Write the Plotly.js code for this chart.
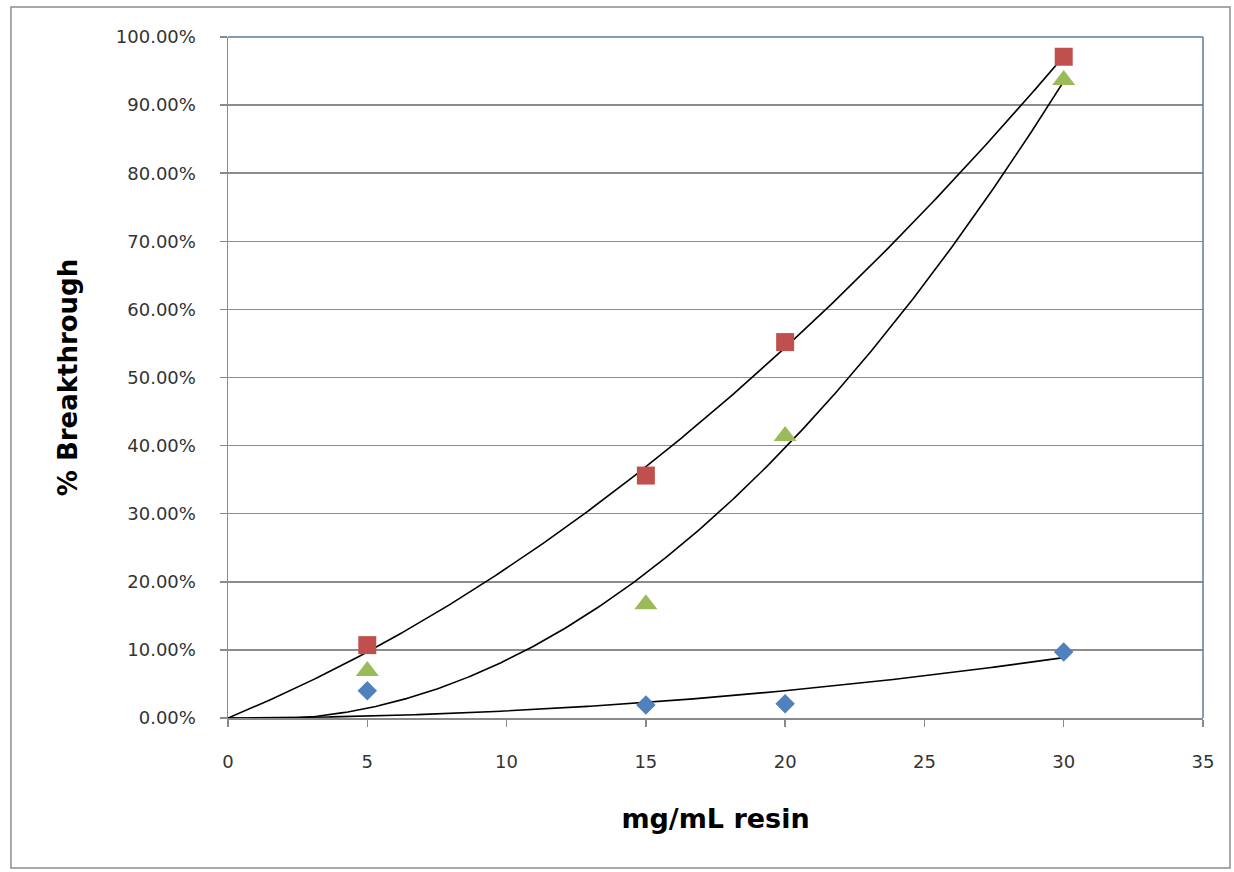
<!DOCTYPE html>
<html>
<head>
<meta charset="utf-8">
<script src="https://cdn.plot.ly/plotly-3.0.1.min.js"></script>
<style>
  html, body { margin: 0; padding: 0; background: #ffffff; }
  #chart { width: 1234px; height: 872px; }
</style>
</head>
<body>
<div id="chart"></div>
<script>
// ---- data ----
var loadings = [5, 15, 20, 30];                       // mg/mL resin
var seriesRed = [0.107, 0.356, 0.552, 0.971];         // squares
var seriesGreen = [0.069, 0.167, 0.414, 0.937];       // triangles
var seriesBlue = [0.040, 0.019, 0.021, 0.097];        // diamonds
var xTickVals = [0, 5, 10, 15, 20, 25, 30, 35];
var yTickVals = [0, 0.1, 0.2, 0.3, 0.4, 0.5, 0.6, 0.7, 0.8, 0.9, 1.0];

// 2nd-order polynomial trendline with intercept fixed at 0 (least squares),
// like a spreadsheet trendline, computed from the data arrays.
function polyFit0(xs, ys) {
  var s2 = 0, s3 = 0, s4 = 0, sxy = 0, sx2y = 0;
  for (var i = 0; i < xs.length; i++) {
    var x = xs[i], y = ys[i];
    s2 += x * x; s3 += x * x * x; s4 += x * x * x * x;
    sxy += x * y; sx2y += x * x * y;
  }
  var det = s2 * s4 - s3 * s3;
  var a = (sxy * s4 - s3 * sx2y) / det;
  var b = (s2 * sx2y - s3 * sxy) / det;
  return function (x) { return a * x + b * x * x; };
}
function trend(xs, ys, from, to) {
  var f = polyFit0(xs, ys), tx = [], ty = [];
  var n = 300;
  for (var k = 0; k <= n; k++) {
    var x = from + (to - from) * k / n;
    tx.push(x); ty.push(f(x));
  }
  return { x: tx, y: ty };
}

var tRed = trend(loadings, seriesRed, 0, 30);
var tGreen = trend(loadings, seriesGreen, 0, 30);
var tBlue = trend(loadings, seriesBlue, 0, 30);

var lineStyle = { color: '#000000', width: 1.6 };
var traces = [
  { x: tRed.x, y: tRed.y, mode: 'lines', line: lineStyle, hoverinfo: 'skip', showlegend: false },
  { x: tGreen.x, y: tGreen.y, mode: 'lines', line: lineStyle, hoverinfo: 'skip', showlegend: false },
  { x: tBlue.x, y: tBlue.y, mode: 'lines', line: lineStyle, hoverinfo: 'skip', showlegend: false },
  { x: loadings, y: seriesBlue, mode: 'markers', showlegend: false,
    marker: { symbol: 'diamond', size: 15, color: '#4F81BD' } },
  { x: loadings, y: seriesRed, mode: 'markers', showlegend: false,
    marker: { symbol: 'square', size: 18, color: '#C0504D' } },
  { x: loadings, y: seriesGreen, mode: 'markers', showlegend: false,
    marker: { symbol: 'triangle-up', size: 20, color: '#9BBB59' } }
];

var layout = {
  width: 1234, height: 872,
  margin: { l: 228, r: 31, t: 37, b: 154, pad: 0 },
  paper_bgcolor: '#ffffff', plot_bgcolor: '#ffffff',
  font: { family: 'DejaVu Sans, sans-serif', color: '#333333' },
  xaxis: {
    range: [0, 35], tickvals: xTickVals, ticktext: xTickVals.map(String),
    showgrid: false, zeroline: false,
    showline: true, linecolor: '#8a8a8a', linewidth: 1.5,
    ticks: 'outside', ticklen: 7, tickwidth: 1.5, tickcolor: '#8a8a8a',
    ticklabelstandoff: 20,
    tickfont: { family: 'DejaVu Sans, sans-serif', size: 18, color: '#333333' },
    title: { text: 'mg/mL resin', standoff: 38,
      font: { family: 'DejaVu Sans, sans-serif', size: 27, color: '#000000', weight: 'bold' } }
  },
  yaxis: {
    range: [0, 1.0], tickvals: yTickVals, tickformat: '.2%',
    showgrid: true, gridcolor: '#8c8c8c', gridwidth: 1.5, zeroline: false,
    showline: true, linecolor: '#8a8a8a', linewidth: 1.5,
    ticks: 'outside', ticklen: 7, tickwidth: 1.5, tickcolor: '#8a8a8a',
    ticklabelstandoff: 20,
    tickfont: { family: 'DejaVu Sans, sans-serif', size: 18, color: '#333333' },
    title: { text: '% Breakthrough', standoff: 30,
      font: { family: 'DejaVu Sans, sans-serif', size: 26, color: '#000000', weight: 'bold' } }
  },
  shapes: [
    // outer chart frame
    { type: 'rect', xref: 'paper', yref: 'paper', x0: -0.2226, x1: 1.0277, y0: -0.2203, y1: 1.0441,
      line: { color: '#8c8c8c', width: 1.5 }, layer: 'below' },
    // plot-area border (top and right)
    { type: 'line', xref: 'paper', yref: 'paper', x0: 0, x1: 1, y0: 1, y1: 1,
      line: { color: '#5b7b9c', width: 1.5 }, layer: 'above' },
    { type: 'line', xref: 'paper', yref: 'paper', x0: 1, x1: 1, y0: 0, y1: 1,
      line: { color: '#5b7b9c', width: 1.5 }, layer: 'above' }
  ]
};

Plotly.newPlot('chart', traces, layout, { displayModeBar: false, staticPlot: true });
</script>
</body>
</html>
